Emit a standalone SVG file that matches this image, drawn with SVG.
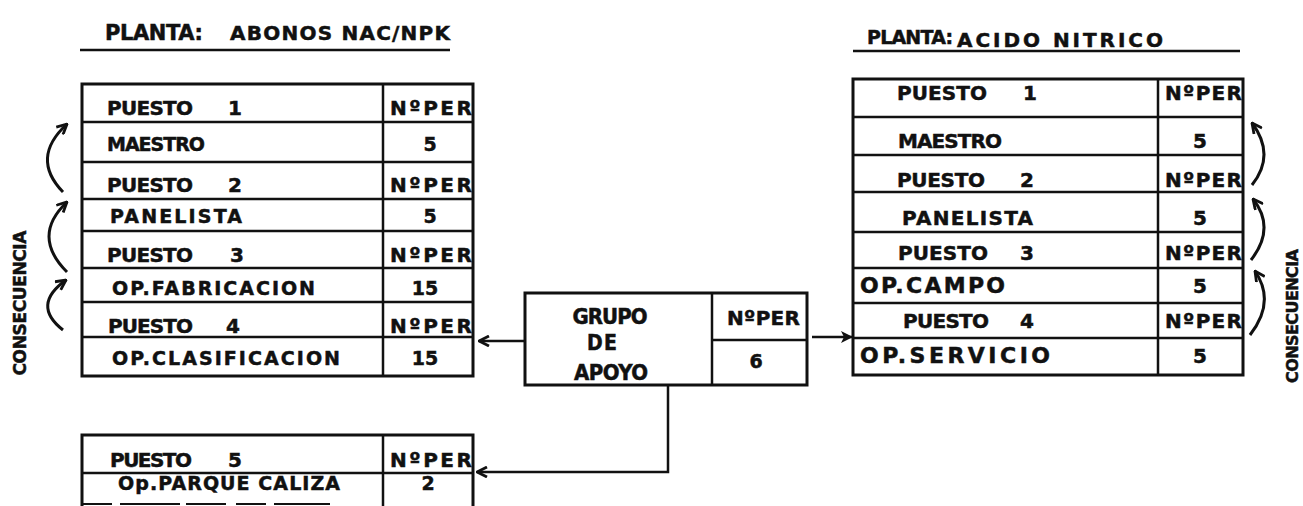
<svg xmlns="http://www.w3.org/2000/svg" width="1303" height="506" viewBox="0 0 1303 506">
<style>
text{font-family:"DejaVu Sans","Liberation Sans",sans-serif;font-weight:bold;fill:#111;stroke:#111;stroke-width:0.5}
.h{font-size:20px}
.d{font-size:19px}
.r{font-size:20px}
.o{font-size:22px}
.t{font-size:21px}
.s{font-size:20px}
.g{font-family:"DejaVu Sans Condensed","DejaVu Sans",sans-serif;font-stretch:condensed;font-size:22px}
.c{font-size:17px}
.ln{stroke:#111;stroke-width:2.5;fill:none}
.bx{stroke:#111;stroke-width:3;fill:none}
.arc{stroke:#111;stroke-width:3;fill:none}
</style>
<defs>
<marker id="open" viewBox="0 0 12 12" refX="11" refY="6" markerWidth="12" markerHeight="12" markerUnits="userSpaceOnUse" orient="auto">
<path d="M1 1 L11 6 L1 11" fill="none" stroke="#111" stroke-width="2.8"/>
</marker>
<marker id="fill" viewBox="0 0 12 12" refX="11" refY="6" markerWidth="12" markerHeight="12" markerUnits="userSpaceOnUse" orient="auto">
<path d="M0 0 L12 6 L0 12 L3 6 Z" fill="#111"/>
</marker>
</defs>
<rect width="1303" height="506" fill="#fff"/>

<g id="header-left">
<text class="t" x="105" y="40" textLength="98">PLANTA:</text>
<text class="s" x="230" y="40" textLength="220">ABONOS NAC/NPK</text>
<line class="ln" x1="80" y1="50" x2="450" y2="50"/>
</g>
<g id="header-right">
<text class="t" x="867" y="44" textLength="86" style="font-size:19px">PLANTA:</text>
<text class="s" x="957" y="47" textLength="206">ACIDO NITRICO</text>
<line class="ln" x1="853" y1="51" x2="1240" y2="51"/>
</g>

<g id="table-abonos">
<rect class="bx" x="82" y="84" width="391" height="292"/>
<line class="ln" x1="383" y1="84" x2="383" y2="376"/>
<line class="ln" x1="82" y1="122" x2="473" y2="122"/>
<line class="ln" x1="82" y1="162" x2="473" y2="162"/>
<line class="ln" x1="82" y1="199" x2="473" y2="199"/>
<line class="ln" x1="82" y1="231" x2="473" y2="231"/>
<line class="ln" x1="82" y1="268" x2="473" y2="268"/>
<line class="ln" x1="82" y1="302" x2="473" y2="302"/>
<line class="ln" x1="82" y1="337" x2="473" y2="337"/>
<text class="h" y="115"><tspan x="107" textLength="86">PUESTO</tspan><tspan x="228">1</tspan></text>
<text class="h" x="390" y="115" textLength="82">NºPER</text>
<text class="d" x="107" y="151" textLength="98">MAESTRO</text>
<text class="d" x="430" y="151" text-anchor="middle">5</text>
<text class="h" y="192"><tspan x="107" textLength="86">PUESTO</tspan><tspan x="228">2</tspan></text>
<text class="h" x="390" y="192" textLength="82">NºPER</text>
<text class="d" x="110" y="223" textLength="132">PANELISTA</text>
<text class="d" x="430" y="223" text-anchor="middle">5</text>
<text class="h" y="262"><tspan x="107" textLength="86">PUESTO</tspan><tspan x="230">3</tspan></text>
<text class="h" x="390" y="262" textLength="82">NºPER</text>
<text class="d" x="112" y="295" textLength="203">OP.FABRICACION</text>
<text class="d" x="425" y="295" text-anchor="middle">15</text>
<text class="h" y="333"><tspan x="108" textLength="85">PUESTO</tspan><tspan x="226">4</tspan></text>
<text class="h" x="390" y="333" textLength="82">NºPER</text>
<text class="d" x="112" y="365" textLength="228">OP.CLASIFICACION</text>
<text class="d" x="425" y="365" text-anchor="middle">15</text>
</g>

<g id="table-puesto5">
<path class="bx" d="M82 506 V435 H473 V506"/>
<line class="ln" x1="383" y1="435" x2="383" y2="506"/>
<line class="ln" x1="82" y1="473" x2="473" y2="473"/>
<line x1="82" y1="504" x2="330" y2="504" stroke="#111" stroke-width="2" stroke-dasharray="30 8 60 6 40 10"/>
<text class="h" y="467"><tspan x="110" textLength="82">PUESTO</tspan><tspan x="228">5</tspan></text>
<text class="h" x="390" y="467" textLength="82">NºPER</text>
<text class="d" x="118" y="490" textLength="222">Op.PARQUE CALIZA</text>
<text class="d" x="428" y="490" text-anchor="middle">2</text>
</g>

<g id="table-nitrico">
<rect class="bx" x="853" y="79" width="390" height="296"/>
<line class="ln" x1="1158" y1="79" x2="1158" y2="375"/>
<line class="ln" x1="853" y1="117" x2="1243" y2="117"/>
<line class="ln" x1="853" y1="155" x2="1243" y2="155"/>
<line class="ln" x1="853" y1="192" x2="1243" y2="192"/>
<line class="ln" x1="853" y1="232" x2="1243" y2="232"/>
<line class="ln" x1="853" y1="268" x2="1243" y2="268"/>
<line class="ln" x1="853" y1="303" x2="1243" y2="303"/>
<line class="ln" x1="853" y1="338" x2="1243" y2="338"/>
<text class="h" y="100"><tspan x="897" textLength="90">PUESTO</tspan><tspan x="1023">1</tspan></text>
<text class="h" x="1165" y="100" textLength="77">NºPER</text>
<text class="r" x="898" y="148" textLength="104">MAESTRO</text>
<text class="r" x="1200" y="148" text-anchor="middle">5</text>
<text class="h" y="187"><tspan x="897" textLength="88">PUESTO</tspan><tspan x="1020">2</tspan></text>
<text class="h" x="1165" y="187" textLength="77">NºPER</text>
<text class="r" x="902" y="225" textLength="131">PANELISTA</text>
<text class="r" x="1200" y="225" text-anchor="middle">5</text>
<text class="h" y="260"><tspan x="898" textLength="90">PUESTO</tspan><tspan x="1020">3</tspan></text>
<text class="h" x="1165" y="260" textLength="77">NºPER</text>
<text class="o" x="860" y="293" textLength="145">OP.CAMPO</text>
<text class="r" x="1200" y="293" text-anchor="middle">5</text>
<text class="h" y="328"><tspan x="903" textLength="86">PUESTO</tspan><tspan x="1020">4</tspan></text>
<text class="h" x="1165" y="328" textLength="77">NºPER</text>
<text class="o" x="860" y="363" textLength="190">OP.SERVICIO</text>
<text class="r" x="1200" y="363" text-anchor="middle">5</text>
</g>

<g id="grupo-apoyo">
<rect class="bx" x="525" y="293" width="282" height="92"/>
<line class="ln" x1="712" y1="293" x2="712" y2="385"/>
<line class="ln" x1="712" y1="340" x2="807" y2="340"/>
<text class="g" x="610" y="324" text-anchor="middle" textLength="75">GRUPO</text>
<text class="g" x="602" y="350" text-anchor="middle" textLength="30" style="font-size:21px">DE</text>
<text class="g" x="611" y="380" text-anchor="middle" textLength="74">APOYO</text>
<text class="h" x="727" y="325" textLength="73">NºPER</text>
<text class="d" x="756" y="368" text-anchor="middle">6</text>
</g>

<g id="consecuencia-left">
<text class="c" transform="translate(26 303) rotate(-90)" text-anchor="middle" textLength="145">CONSECUENCIA</text>
</g>
<g id="consecuencia-right">
<text class="c" transform="translate(1298 316) rotate(-90)" text-anchor="middle" textLength="134" style="font-size:16px">CONSECUENCIA</text>
</g>

<g id="connectors">
<line class="ln" x1="525" y1="341" x2="479" y2="341" marker-end="url(#open)"/>
<line class="ln" x1="812" y1="337" x2="852" y2="337" marker-end="url(#fill)"/>
<path class="ln" d="M668 385 V472 H477" marker-end="url(#open)"/>
<path class="arc" d="M63 192 Q30 158 67 124" marker-end="url(#open)"/>
<path class="arc" d="M67 272 Q31 236 67 202" marker-end="url(#open)"/>
<path class="arc" d="M63 330 Q31 305 66 280" marker-end="url(#open)"/>
<path class="arc" d="M1252 185 Q1276 155 1252 123" marker-end="url(#open)"/>
<path class="arc" d="M1251 260 Q1276 228 1253 199" marker-end="url(#open)"/>
<path class="arc" d="M1250 335 Q1276 302 1255 271" marker-end="url(#open)"/>
</g>
</svg>
